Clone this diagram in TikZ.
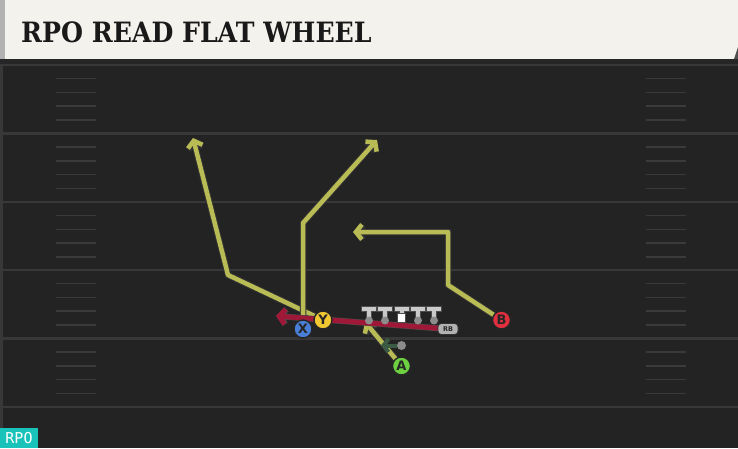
\documentclass[tikz,border=0pt]{standalone}
\usepackage{fontspec}
\setmainfont{DejaVu Sans}
\newfontfamily\titlefont{DejaVu Serif}
\setmonofont{DejaVu Sans Mono}
\usetikzlibrary{arrows.meta}
\definecolor{field}{HTML}{232323}
\definecolor{yardline}{HTML}{383838}
\definecolor{hashmark}{HTML}{3a3a3a}
\definecolor{cream}{HTML}{F4F2EC}
\definecolor{routeyellow}{HTML}{B9BB55}
\definecolor{runred}{HTML}{A01838}
\definecolor{motiongreen}{HTML}{3B5A44}
\definecolor{linegray}{HTML}{CACACA}
\definecolor{xblue}{HTML}{4A7FD8}
\definecolor{yyellow}{HTML}{F2C832}
\definecolor{bred}{HTML}{E0303E}
\definecolor{agreen}{HTML}{6CD040}
\definecolor{rpoteal}{HTML}{19C3B9}
\tikzset{
  player/.style={circle, draw=black!85, line width=1.4pt, inner sep=0pt, minimum size=18pt,
    font=\bfseries\fontsize{13}{13}\selectfont, text=black!85},
  route/.style={draw=routeyellow, line width=4.5pt, line join=round,
    -{Straight Barb[length=6pt,width=15pt]},
    preaction={draw=black!80, line width=6.5pt, -{Straight Barb[length=6pt,width=15pt]}}},
  lineman/.style={fill=linegray, draw=black!70, line width=0.7pt}
}
\begin{document}
\begin{tikzpicture}[x=1pt,y=-1pt]
      \useasboundingbox (0,0) rectangle (738,448);
      \fill[field] (0,0) rectangle (738,448);
      \fill[yardline] (0,0) rectangle (2.5,448);
      \foreach \y in {65,133.5,202,270,338.5,407}
        \draw[yardline, line width=2.2pt] (2.5,\y) -- (738,\y);
      \foreach \y in {65,133.5,202,270,338.5}
        \foreach \k in {1,2,3,4}{
          \draw[hashmark, line width=1.5pt] (56,\y+\k*13.7) -- (96,\y+\k*13.7);
          \draw[hashmark, line width=1.5pt] (646,\y+\k*13.7) -- (686,\y+\k*13.7);
        }
      \fill[black!85] (0,59) rectangle (738,63.5);
      \fill[cream] (0,0) rectangle (738,59);
      \fill[black!30] (0,0) rectangle (5,59);
      \fill[field!80!white] (738,47) -- (738,59) -- (734,59) -- cycle;
      \node[anchor=base west, inner sep=0pt, text=black!90] (title) at (21,42)
        {\titlefont\bfseries\fontsize{28}{30}\selectfont\scalebox{0.9}[1]{RPO READ FLAT WHEEL}};
      \fill[rpoteal] (0,428) rectangle (38,448);
      \node[text=white, inner sep=0pt, font=\ttfamily\fontsize{15}{15}\selectfont] (tag) at (19,438.5) {RPO};
      \coordinate (y1) at (228,275);
      \coordinate (y2) at (193,138);
      \coordinate (x1) at (303,223);
      \coordinate (x2) at (377,140);
      \coordinate (b1) at (448,285);
      \coordinate (b2) at (448,232);
      \coordinate (b3) at (353,232);
      \coordinate (a1) at (365,322);
      \coordinate (run) at (276,316);
      \coordinate (mot) at (381,345.5);
      \coordinate (xs) at (303,329);
      \coordinate (ys) at (323,320);
      \coordinate (bs) at (501.5,320);
      \coordinate (as) at (401.5,366);
      \coordinate (rbs) at (448,329);
      \draw[route] (ys) -- (y1) -- (y2);
      \draw[route] (xs) -- (x1) -- (x2);
      \draw[route] (bs) -- (b1) -- (b2) -- (b3);
      \draw[route] (as) -- (a1);
      \draw[runred, line width=5pt, -{Straight Barb[length=6pt,width=15pt]},
        preaction={draw=black!70, line width=6pt, -{Straight Barb[length=6pt,width=15pt]}}] (rbs) -- (run);
      \foreach \x in {369,385,418,434}{
        \filldraw[lineman] (\x-7.5,306) -- (\x+7.5,306) -- (\x+7.5,311.5) -- (\x+2.6,311.5) -- (\x+2.6,320)
          -- (\x-2.6,320) -- (\x-2.6,311.5) -- (\x-7.5,311.5) -- cycle;
        \fill[black!45] (\x,320.5) circle (4pt);
      }
      \filldraw[lineman] (394,306) -- (409,306) -- (409,311.5) -- (404.1,311.5) -- (404.1,314)
        -- (398.9,314) -- (398.9,311.5) -- (394,311.5) -- cycle;
      \filldraw[fill=white, draw=black!70, line width=0.7pt] (397.3,313.5) rectangle (405.7,322);
      \node[fill=black!45, circle, inner sep=0pt, minimum size=9pt] (qb) at (401.5,345.5) {};
      \draw[motiongreen, line width=4pt, -{Straight Barb[length=5pt,width=13pt]}] (qb) -- (mot);
      \node[fill=black!30, draw=black!80, line width=0.7pt, rounded corners=3.5pt, inner sep=0pt,
        minimum width=20pt, minimum height=11pt, text=black!85, font=\bfseries\fontsize{6.5}{6.5}\selectfont] (rb) at (rbs) {RB};
      \node[player, fill=yyellow] (Y) at (ys) {Y};
      \node[player, fill=xblue] (X) at (xs) {X};
      \node[player, fill=bred] (B) at (bs) {B};
      \node[player, fill=agreen] (A) at (as) {A};
    \end{tikzpicture}
\end{document}
